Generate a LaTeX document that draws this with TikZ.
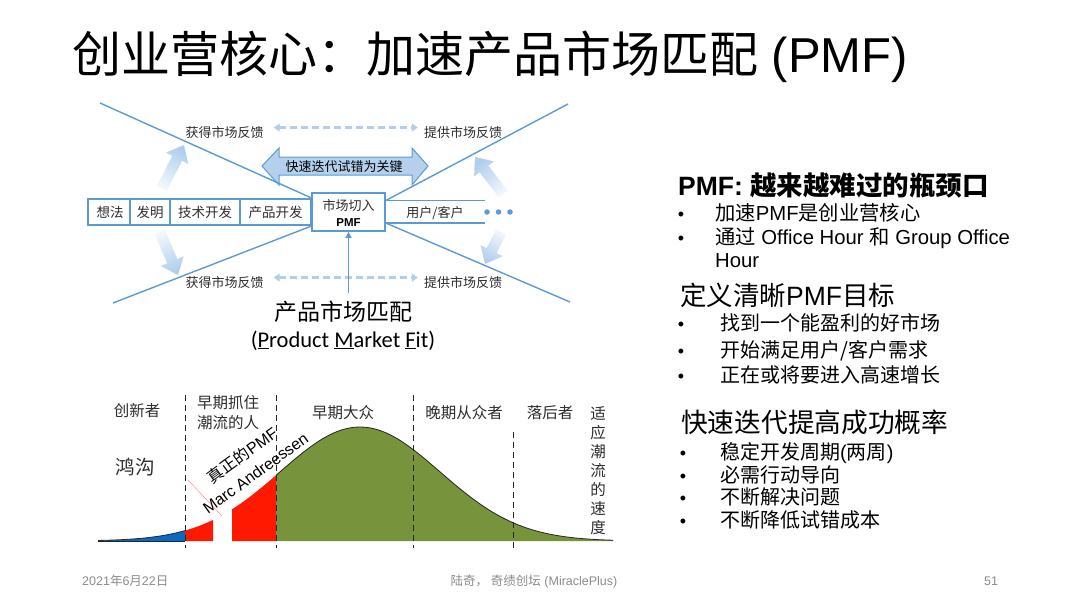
\documentclass[tikz,border=0pt]{standalone}
\usepackage{fontspec}
\setmainfont{Liberation Sans}
\newfontfamily\cjk{Noto Sans CJK SC}
\newfontfamily\carl{Carlito}
\usetikzlibrary{arrows.meta,calc}
\definecolor{lineblue}{RGB}{91,155,213}
\definecolor{fbblue}{RGB}{178,206,235}
\definecolor{keyfill}{RGB}{180,208,236}
\definecolor{fatdark}{RGB}{176,206,236}
\definecolor{fatlight}{RGB}{240,246,252}
\definecolor{txt}{RGB}{45,45,45}
\definecolor{curveblue}{RGB}{10,105,195}
\definecolor{curvered}{RGB}{255,25,0}
\definecolor{curvegreen}{RGB}{119,147,60}
\definecolor{foot}{RGB}{140,140,140}
\pgfmathdeclarefunction{bell}{1}{\pgfmathparse{541-114*exp(-0.5*((#1-360)/80)*((#1-360)/80))}}
\newcommand\fatarr[3]{%
  \coordinate (fah) at ($(#2)!15pt!(#1)$);
  \shade[top color=fatdark, bottom color=fatlight, shading angle=#3]
   ($(#1)!5.5pt!90:(#2)$) -- ($(fah)!5.5pt!90:(#2)$) -- ($(fah)!12.5pt!90:(#2)$) -- (#2)
   -- ($(fah)!12.5pt!-90:(#2)$) -- ($(fah)!5.5pt!-90:(#2)$) -- ($(#1)!5.5pt!-90:(#2)$) -- cycle;}
\begin{document}
\begin{tikzpicture}[x=1pt,y=-1pt,
  bl/.style={draw=lineblue, line width=1.4pt},
  lbl/.style={font=\cjk\fontsize{13}{15}\selectfont, text=txt, inner sep=0pt, anchor=base},
  fb/.style={draw=fbblue, line width=2.2pt, dash pattern=on 7pt off 4pt,
     {Triangle[width=8pt,length=6pt]}-{Triangle[width=8pt,length=6pt]}},
  blab/.style={font=\cjk\fontsize{15.5}{19}\selectfont, text=txt, inner sep=0pt, anchor=base},
  rt/.style={anchor=base west, inner sep=0pt},
  bul/.style={anchor=base, inner sep=0pt, font=\fontsize{18}{20}\selectfont},
  vdash/.style={draw=black!85, line width=0.8pt, dash pattern=on 6pt off 4pt},
  rotlbl/.style={rotate=36, inner sep=0pt, align=center, font=\fontsize{16}{22}\selectfont}
]
\useasboundingbox (0,0) rectangle (1080,608);
\fill[white] (0,0) rectangle (1080,608);

% ---------- title ----------
\node[anchor=base west, inner sep=0pt, font=\fontsize{49}{55}\selectfont] (title) at (72,72.6)
  {{\cjk 创业营核心：加速产品市场匹配} (PMF)};

% ---------- key double arrow ----------
\fill[keyfill, draw=lineblue, line width=1pt]
  (262,166) -- (279,148) -- (279,157) -- (412,157) -- (412,148) -- (428,166)
  -- (412,185) -- (412,175) -- (279,175) -- (279,185) -- cycle;
\node[lbl, text=black] (key) at (344,171) {快速迭代试错为关键};

% ---------- faded fat arrows ----------
\coordinate (fa1t) at (162,188); \coordinate (fa1h) at (184,145);
\coordinate (fa2t) at (160,232); \coordinate (fa2h) at (178,275);
\coordinate (fa3t) at (503,194); \coordinate (fa3h) at (475,157);
\coordinate (fa4t) at (501,232); \coordinate (fa4h) at (485,264);
\fatarr{fa1t}{fa1h}{-27}
\fatarr{fa2t}{fa2h}{-157}
\fatarr{fa3t}{fa3h}{38}
\fatarr{fa4t}{fa4h}{153}

% ---------- boxes ----------
\node[draw=lineblue, line width=1.6pt, fill=white, minimum width=223pt, minimum height=26pt,
      inner sep=0pt, anchor=east] (row) at (312,212) {};
\node[draw=lineblue, line width=1.6pt, fill=white, minimum width=73pt, minimum height=38pt,
      inner sep=0pt] (pmf) at (348.5,212) {};
\draw[bl] (130,199) -- (130,225);
\draw[bl] (170,199) -- (170,225);
\draw[bl] (240,199) -- (240,225);
\node[lbl, font=\cjk\fontsize{13.5}{15}\selectfont] (s1) at (110,217) {想法};
\node[lbl, font=\cjk\fontsize{13.5}{15}\selectfont] (s2) at (150,217) {发明};
\node[lbl, font=\cjk\fontsize{13.5}{15}\selectfont] (s3) at (205,217) {技术开发};
\node[lbl, font=\cjk\fontsize{13.5}{15}\selectfont] (s4) at (275.5,217) {产品开发};
\node[lbl] (pmft) at (348.5,210) {市场切入};
\node[lbl, font=\bfseries\fontsize{11.5}{13}\selectfont, text=black] (pmfb) at (348.5,226) {PMF};

% ---------- diagonal and user lines ----------
\coordinate (ulend) at (100,103);
\coordinate (llend) at (113,303);
\coordinate (urend) at (568,104);
\coordinate (lrend) at (570,302);
\coordinate (pmfu) at ($(pmf.east)+(0,-11.5)$);
\coordinate (pmfl) at ($(pmf.east)+(0,11)$);
\coordinate (uline1) at (485,200.5);
\coordinate (uline2) at (485,223);
\draw[bl] (ulend) -- (row.north east);
\draw[bl] (llend) -- (row.south east);
\draw[bl] (pmfu) -- (urend);
\draw[bl] (pmfl) -- (lrend);
\draw[bl] (pmfu) -- (uline1);
\draw[bl] (pmfl) -- (uline2);
\node[lbl] (user) at (435,217) {用户/客户};
\foreach \i/\xx in {1/487,2/498.5,3/510}
  \node[circle, fill=lineblue, inner sep=0pt, minimum size=5.5pt] (dot\i) at (\xx,212) {};

% ---------- feedback labels ----------
\node[lbl] (fl1) at (224.5,137) {获得市场反馈};
\node[lbl] (fr1) at (463,137) {提供市场反馈};
\node[lbl] (fl2) at (224.5,287) {获得市场反馈};
\node[lbl] (fr2) at (463,287) {提供市场反馈};
\draw[fb] ([xshift=10pt,yshift=4.5pt]fl1.east) -- ([xshift=-6pt,yshift=4.5pt]fr1.west);
\draw[fb] ([xshift=10pt,yshift=4.5pt]fl2.east) -- ([xshift=-6pt,yshift=4.5pt]fr2.west);

% vertical arrow into PMF
\coordinate (vbot) at (348.5,293);
\draw[draw=lineblue, line width=1.4pt, -{Triangle[width=6pt,length=6pt]}] (vbot) -- (pmf.south);

% ---------- product market fit ----------
\node[anchor=base, inner sep=0pt, font=\cjk\fontsize{23}{26}\selectfont] (pmfcn) at (343,320.5) {产品市场匹配};
\node[anchor=base, inner sep=0pt, font=\carl\fontsize{22.5}{26}\selectfont] (pmfen) at (343,347)
  {(\underline{P}roduct \underline{M}arket \underline{F}it)};

% ---------- bell curve ----------
\fill[curveblue] (98,541) -- plot[domain=98:185, samples=30, smooth] (\x,{bell(\x)}) -- (185,541) -- cycle;
\fill[curvered] (185,541) -- plot[domain=185:213, samples=10, smooth] (\x,{bell(\x)}) -- (213,541) -- cycle;
\fill[curvered] (232,541) -- plot[domain=232:276, samples=12, smooth] (\x,{bell(\x)}) -- (276,541) -- cycle;
\fill[curvegreen] (276,541) -- plot[domain=276:613, samples=80, smooth] (\x,{bell(\x)}) -- (613,541) -- cycle;
\draw[black!85, line width=0.8pt] plot[domain=98:185, samples=30, smooth] (\x,{bell(\x)});
\draw[black!85, line width=0.8pt] plot[domain=276:613, samples=80, smooth] (\x,{bell(\x)});
\draw[black!85, line width=0.8pt] (98,541) -- (185,541);
\draw[vdash] (185,395) -- (185,548);
\draw[vdash] (276,395) -- (276,548);
\draw[vdash] (413,395) -- (413,548);
\draw[vdash] (513,432) -- (513,548);
\draw[red!45, line width=0.5pt] (188,480) -- (222,516);

\node[blab] (b1) at (137,416) {创新者};
\node[blab] (b2a) at (228,408) {早期抓住};
\node[blab] (b2b) at (228,428) {潮流的人};
\node[blab] (b3) at (343,418) {早期大众};
\node[blab] (b4) at (464,418) {晚期从众者};
\node[blab] (b5) at (550,418) {落后者};
\node[blab, font=\cjk\fontsize{19.5}{22}\selectfont] (gap) at (135,474.5) {鸿沟};
\foreach \c [count=\i] in {适,应,潮,流,的,速,度}
  \node[blab] (v\i) at (598,{419+19*(\i-1)}) {\c};
\node[rotlbl] (realpmf) at (248.5,463.5) {{\cjk 真正的}PMF\\Marc Andreessen};

% ---------- right text ----------
\node[rt, font=\bfseries\fontsize{26.5}{30}\selectfont] (h1) at (678,195)
  {PMF: {\cjk\bfseries 越来越难过的瓶颈口}};
\node[bul] (p1) at (681,220.5) {•};
\node[bul] (p2) at (681,244.5) {•};
\node[rt, font=\fontsize{20.3}{23}\selectfont] (t1) at (715,220.5) {{\cjk 加速}PMF{\cjk 是创业营核心}};
\node[rt, font=\fontsize{20.3}{23}\selectfont] (t2) at (715,244.5) {{\cjk 通过} Office Hour {\cjk 和} Group Office};
\node[rt, font=\fontsize{20.3}{23}\selectfont] (t3) at (715,267.5) {Hour};

\node[rt, font=\fontsize{26.5}{30}\selectfont] (h2) at (680,305) {{\cjk 定义清晰}PMF{\cjk 目标}};
\node[bul] (q1) at (681,330.5) {•};
\node[bul] (q2) at (681,357.5) {•};
\node[bul] (q3) at (681,382.5) {•};
\node[rt, font=\cjk\fontsize{20}{23}\selectfont] (u1) at (720,330.5) {找到一个能盈利的好市场};
\node[rt, font=\cjk\fontsize{20}{23}\selectfont] (u2) at (720,357.5) {开始满足用户/客户需求};
\node[rt, font=\cjk\fontsize{20}{23}\selectfont] (u3) at (720,382.5) {正在或将要进入高速增长};

\node[rt, font=\cjk\fontsize{26.7}{30}\selectfont] (h3) at (681,432) {快速迭代提高成功概率};
\node[bul] (r1) at (683,459.5) {•};
\node[bul] (r2) at (683,482.5) {•};
\node[bul] (r3) at (683,504.5) {•};
\node[bul] (r4) at (683,527.5) {•};
\node[rt, font=\fontsize{20}{23}\selectfont] (w1) at (720,459.5) {{\cjk 稳定开发周期}({\cjk 两周})};
\node[rt, font=\cjk\fontsize{20}{23}\selectfont] (w2) at (720,482.5) {必需行动导向};
\node[rt, font=\cjk\fontsize{20}{23}\selectfont] (w3) at (720,504.5) {不断解决问题};
\node[rt, font=\cjk\fontsize{20}{23}\selectfont] (w4) at (720,527.5) {不断降低试错成本};

% ---------- footer ----------
\node[rt, text=foot, font=\fontsize{12.5}{14}\selectfont] (date) at (82,585) {2021{\cjk 年}6{\cjk 月}22{\cjk 日}};
\node[anchor=base, inner sep=0pt, text=foot, font=\fontsize{12.5}{14}\selectfont] (auth) at (534,585)
  {{\cjk 陆奇，\ 奇绩创坛} (MiraclePlus)};
\node[anchor=base, inner sep=0pt, text=foot, font=\fontsize{12.5}{14}\selectfont] (page) at (991,585) {51};
\end{tikzpicture}
\end{document}
